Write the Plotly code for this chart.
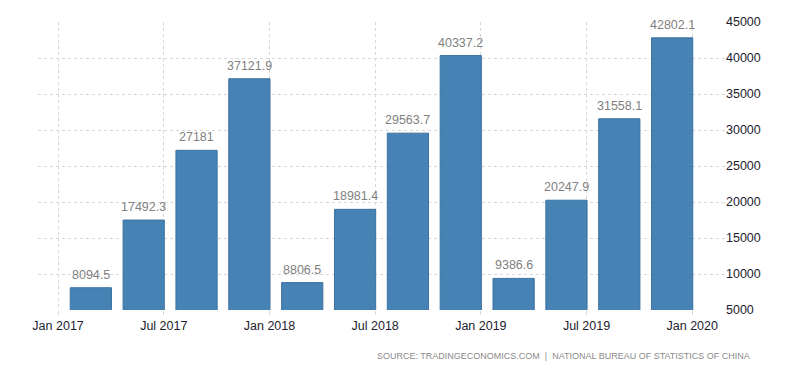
import plotly.graph_objects as go

quarters = ["2017 Q1", "2017 Q2", "2017 Q3", "2017 Q4",
            "2018 Q1", "2018 Q2", "2018 Q3", "2018 Q4",
            "2019 Q1", "2019 Q2", "2019 Q3", "2019 Q4"]
values = [8094.5, 17492.3, 27181, 37121.9,
          8806.5, 18981.4, 29563.7, 40337.2,
          9386.6, 20247.9, 31558.1, 42802.1]
value_labels = ["8094.5", "17492.3", "27181", "37121.9",
                "8806.5", "18981.4", "29563.7", "40337.2",
                "9386.6", "20247.9", "31558.1", "42802.1"]
tick_labels = ["Jan 2017", "Jul 2017", "Jan 2018", "Jul 2018",
               "Jan 2019", "Jul 2019", "Jan 2020"]
y_ticks = [5000, 10000, 15000, 20000, 25000, 30000, 35000, 40000, 45000]
y_tick_labels = [str(v) for v in y_ticks]

x_idx = list(range(len(quarters)))
tick_pos = [2 * k - 0.62 for k in range(len(tick_labels))]

fig = go.Figure()
fig.add_trace(go.Bar(
    x=x_idx, y=values, base=0,
    marker=dict(color="#4682b4", line=dict(color="#3d72a0", width=1)),
    width=0.78, hoverinfo="skip",
))

label_annotations = [
    dict(x=xi, y=v, text=t, xref="x", yref="y", showarrow=False,
         xanchor="center", yanchor="bottom", yshift=4,
         font=dict(family="Liberation Sans, Arial", size=12.5, color="#7f7f7f"))
    for xi, v, t in zip(x_idx, values, value_labels)
]

fig.update_layout(
    template="none",
    width=792, height=365,
    margin=dict(l=30, r=75, t=14, b=63),
    paper_bgcolor="white", plot_bgcolor="white",
    showlegend=False,
    xaxis=dict(
        range=[-1, 12], tickmode="array", tickvals=tick_pos, ticktext=tick_labels,
        showgrid=True, gridcolor="#d6d6d6", griddash="dot", gridwidth=1,
        zeroline=False, showline=False, ticks="outside", ticklen=4,
        tickcolor="#d6d6d6", automargin=False,
        tickfont=dict(family="Liberation Sans, Arial", size=12.5, color="#1c1c2e"),
    ),
    yaxis=dict(
        range=[5000, 45000], side="right", tickmode="array",
        tickvals=y_ticks, ticktext=y_tick_labels,
        showgrid=True, gridcolor="#d6d6d6", griddash="dot", gridwidth=1,
        zeroline=False, showline=False, ticks="", automargin=False,
        tickfont=dict(family="Liberation Sans, Arial", size=12.5, color="#1c1c2e"),
    ),
    annotations=label_annotations + [dict(
        text="SOURCE: TRADINGECONOMICS.COM  |  NATIONAL BUREAU OF STATISTICS OF CHINA",
        xref="paper", yref="paper", x=1.0, y=-0.16, xanchor="right", yanchor="middle",
        xshift=27, showarrow=False,
        font=dict(family="Liberation Sans, Arial", size=9, color="#8a8a8a"),
    )],
)

fig.write_html("out.html")
